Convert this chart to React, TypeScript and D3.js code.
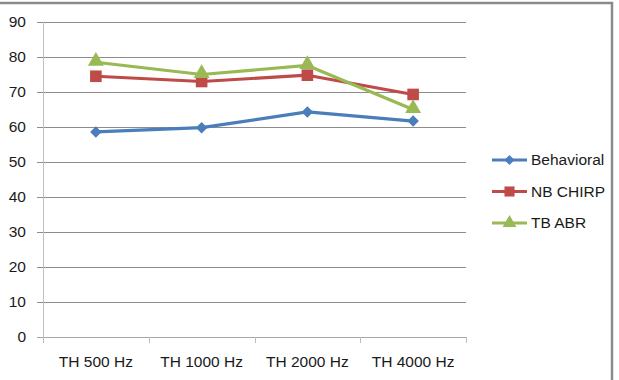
import * as d3 from 'd3';
import { useEffect, useRef } from 'react';

const WIDTH = 619;
const HEIGHT = 380;

const categories = ['TH 500 Hz', 'TH 1000 Hz', 'TH 2000 Hz', 'TH 4000 Hz'];
const behavioral = [58.6, 59.8, 64.3, 61.7];
const nbChirp = [74.5, 73.0, 74.8, 69.3];
const tbAbr = [78.5, 75.0, 77.6, 65.0];
const yTicks = [0, 10, 20, 30, 40, 50, 60, 70, 80, 90];

type Marker = 'diamond' | 'square' | 'triangle';

const series: { name: string; values: number[]; color: string; marker: Marker }[] = [
  { name: 'Behavioral', values: behavioral, color: '#4A7EBB', marker: 'diamond' },
  { name: 'NB CHIRP', values: nbChirp, color: '#BE4B48', marker: 'square' },
  { name: 'TB ABR', values: tbAbr, color: '#98B954', marker: 'triangle' },
];

const symbolFor: Record<Marker, { type: d3.SymbolType; size: number }> = {
  diamond: { type: d3.symbolDiamond2, size: 85 },
  square: { type: d3.symbolSquare, size: 135 },
  triangle: { type: d3.symbolTriangle, size: 110 },
};

const FONT = 'Liberation Sans, Arial, sans-serif';
const FONT_SIZE = 15.5;

const margin = { top: 22, right: 153, bottom: 43, left: 43 };

export default function App() {
  const ref = useRef<SVGSVGElement>(null);

  useEffect(() => {
    const svgEl = ref.current;
    if (!svgEl) return;
    const svg = d3.select(svgEl);
    svg.selectAll('*').remove();

    const x = d3
      .scaleBand<string>()
      .domain(categories)
      .range([margin.left, WIDTH - margin.right]);
    const y = d3
      .scaleLinear()
      .domain([0, 90])
      .range([HEIGHT - margin.bottom, margin.top]);

    // frame: only the top and right edges show
    svg
      .append('path')
      .attr('d', `M0,3 H612 V${HEIGHT}`)
      .attr('fill', 'none')
      .attr('stroke', '#8a8a8a')
      .attr('stroke-width', 2.5);

    // gridlines + y ticks
    const grid = svg.append('g');
    grid
      .selectAll('line')
      .data(yTicks)
      .join('line')
      .attr('x1', margin.left - 6)
      .attr('x2', WIDTH - margin.right)
      .attr('y1', (d) => Math.round(y(d)) + 0.5)
      .attr('y2', (d) => Math.round(y(d)) + 0.5)
      .attr('stroke', (d) => (d === 0 ? '#a6a6a6' : '#8c8c8c'))
      .attr('stroke-width', 1);

    grid
      .selectAll('text')
      .data(yTicks)
      .join('text')
      .attr('x', 26)
      .attr('y', (d) => y(d))
      .attr('dy', '0.35em')
      .attr('text-anchor', 'end')
      .attr('font-family', FONT)
      .attr('font-size', FONT_SIZE)
      .attr('fill', '#1a1a1a')
      .text((d) => d);

    // y axis line
    svg
      .append('line')
      .attr('x1', margin.left + 0.5)
      .attr('x2', margin.left + 0.5)
      .attr('y1', margin.top)
      .attr('y2', HEIGHT - margin.bottom + 6)
      .attr('stroke', '#bdbdbd');

    // x category ticks
    const bounds = [...categories.map((c) => x(c) ?? 0), WIDTH - margin.right];
    svg
      .append('g')
      .selectAll('line')
      .data(bounds.slice(1))
      .join('line')
      .attr('x1', (d) => Math.round(d) + 0.5)
      .attr('x2', (d) => Math.round(d) + 0.5)
      .attr('y1', y(0))
      .attr('y2', y(0) + 6)
      .attr('stroke', '#bdbdbd');

    svg
      .append('g')
      .selectAll('text')
      .data(categories)
      .join('text')
      .attr('x', (d) => (x(d) ?? 0) + x.bandwidth() / 2)
      .attr('y', 362)
      .attr('dy', '0.35em')
      .attr('text-anchor', 'middle')
      .attr('font-family', FONT)
      .attr('font-size', FONT_SIZE)
      .attr('fill', '#1a1a1a')
      .text((d) => d);

    const cx = (i: number) => (x(categories[i]) ?? 0) + x.bandwidth() / 2;
    const line = d3
      .line<number>()
      .x((_, i) => cx(i))
      .y((d) => y(d));

    series.forEach((s) => {
      const g = svg.append('g');
      g.append('path')
        .attr('d', line(s.values) ?? '')
        .attr('fill', 'none')
        .attr('stroke', s.color)
        .attr('stroke-width', 3.2)
        .attr('stroke-linejoin', 'round');
      const sym = symbolFor[s.marker];
      g.selectAll('path.m')
        .data(s.values)
        .join('path')
        .attr('class', 'm')
        .attr('d', d3.symbol(sym.type, sym.size)())
        .attr('transform', (d, i) => `translate(${cx(i)},${y(d) + (s.marker === 'triangle' ? -1 : 0)})`)
        .attr('fill', s.color);
    });

    // legend
    const legend = svg.append('g');
    series.forEach((s, i) => {
      const ly = 160 + i * 31.5;
      legend
        .append('line')
        .attr('x1', 492)
        .attr('x2', 527)
        .attr('y1', ly)
        .attr('y2', ly)
        .attr('stroke', s.color)
        .attr('stroke-width', 3);
      const sym = symbolFor[s.marker];
      legend
        .append('path')
        .attr('d', d3.symbol(sym.type, sym.size * 0.75)())
        .attr('transform', `translate(509.5,${ly})`)
        .attr('fill', s.color);
      legend
        .append('text')
        .attr('x', 531)
        .attr('y', ly)
        .attr('dy', '0.35em')
        .attr('font-family', FONT)
        .attr('font-size', FONT_SIZE)
        .attr('fill', '#1a1a1a')
        .text(s.name);
    });
  }, []);

  return (
    <svg
      ref={ref}
      width={WIDTH}
      height={HEIGHT}
      style={{ position: 'fixed', left: 0, top: 0, background: '#fff' }}
    />
  );
}
